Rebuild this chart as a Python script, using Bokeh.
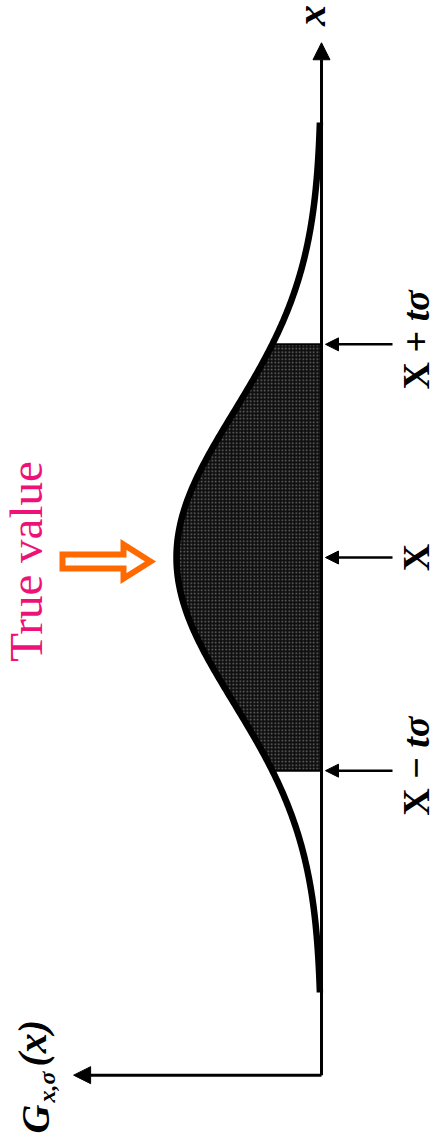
import numpy as np
from bokeh.plotting import figure
from bokeh.models import Range1d, Arrow, NormalHead
from bokeh.core.properties import value
from bokeh.embed import file_html
from bokeh.resources import INLINE

# ---- Gaussian G_{X,sigma}(x) and the shaded interval X +/- t*sigma ----
X_TRUE = 0.0          # true value X
SIGMA = 1.0           # width sigma
T_FACTOR = 1.47       # t
CURVE_SPAN = 3.0      # curve drawn out to X +/- 3 sigma
X_AXIS_LOW = -3.57    # x axis runs between these (in sigma units about X)
X_AXIS_HIGH = 3.55
G_AXIS_END = 0.682    # length of the G axis

marker_names = ["X \u2212 ", "X", "X + "]
marker_factors = [-1.0, 0.0, 1.0]

# ---- page geometry (rotated drawing: x runs upward, G runs to the left) ----
W, H = 439, 1141
BASE_PX = 321.0       # screen column of G = 0
MEAN_PY = 557.0       # screen row of x = X
PX_PER_SIGMA = 145.0
PEAK_G = 1.0 / (SIGMA * np.sqrt(2 * np.pi))
PX_PER_G = 145.0 / PEAK_G
BASELINE_FIX = 0.42   # rotated text sits this many font sizes right of its anchor


def g_at(px):
    """screen column -> G value"""
    return (BASE_PX - px) / PX_PER_G


def x_at(py):
    """screen row -> x value"""
    return X_TRUE + (MEAN_PY - py) / PX_PER_SIGMA * SIGMA


def gauss(x):
    return np.exp(-((x - X_TRUE) ** 2) / (2 * SIGMA ** 2)) / (SIGMA * np.sqrt(2 * np.pi))


p = figure(width=W, height=H, output_backend="svg", toolbar_location=None,
           x_range=Range1d(start=g_at(0), end=g_at(W)),
           y_range=Range1d(start=x_at(H), end=x_at(0)),
           min_border=0)
p.axis.visible = False
p.grid.visible = False
p.outline_line_color = None
p.background_fill_color = "white"
p.border_fill_color = "white"

# shaded area between X - t*sigma and X + t*sigma
xs_fill = np.linspace(X_TRUE - T_FACTOR * SIGMA, X_TRUE + T_FACTOR * SIGMA, 200)
p.harea(y=xs_fill, x1=np.zeros_like(xs_fill), x2=gauss(xs_fill),
        fill_color="#0f0f0f", hatch_pattern="dot", hatch_color="white",
        hatch_alpha=0.4, hatch_scale=3.5, hatch_weight=1.0)
edges = np.array([X_TRUE - T_FACTOR * SIGMA, X_TRUE + T_FACTOR * SIGMA])
p.segment(x0=np.zeros(2), y0=edges, x1=gauss(edges), y1=edges,
          line_color="black", line_width=2)

# the Gaussian curve
xs = np.linspace(X_TRUE - CURVE_SPAN * SIGMA, X_TRUE + CURVE_SPAN * SIGMA, 400)
p.line(gauss(xs), xs, line_color="black", line_width=6.5, line_join="round")

# axes with arrow heads
p.add_layout(Arrow(x_start=0, y_start=X_TRUE + X_AXIS_LOW * SIGMA,
                   x_end=0, y_end=X_TRUE + X_AXIS_HIGH * SIGMA,
                   line_width=3, line_color="black",
                   end=NormalHead(size=17, fill_color="black", line_color="black")))
p.add_layout(Arrow(x_start=0, y_start=X_TRUE + X_AXIS_LOW * SIGMA,
                   x_end=G_AXIS_END, y_end=X_TRUE + X_AXIS_LOW * SIGMA,
                   line_width=3, line_color="black",
                   end=NormalHead(size=17, fill_color="black", line_color="black")))

# marker arrows at X - t*sigma, X, X + t*sigma
for f in marker_factors:
    ym = X_TRUE + f * T_FACTOR * SIGMA
    p.add_layout(Arrow(x_start=g_at(392), y_start=ym, x_end=g_at(325), y_end=ym,
                       line_width=2.5, line_color="black",
                       end=NormalHead(size=13, fill_color="black", line_color="black")))

serif = value("Liberation Serif")


def vtext(px, py, txt, size, style="bold", align="left", color="black"):
    """rotated text whose baseline runs along screen column px"""
    p.text(x=[g_at(px - BASELINE_FIX * size)], y=[x_at(py)], text=[txt],
           angle=np.pi / 2, text_font=serif, text_font_style=style,
           text_font_size=f"{size}px", text_align=align,
           text_baseline="alphabetic", text_color=color)


LABEL_PX = 431
for name, f in zip(marker_names, marker_factors):
    mark_py = MEAN_PY - f * T_FACTOR * PX_PER_SIGMA
    if f == 0:
        vtext(LABEL_PX, mark_py, name, 38, align="center")
    else:
        vtext(LABEL_PX, mark_py - 23, name, 38, align="right")
        vtext(LABEL_PX, mark_py - 23, "t\u03c3", 38, style="bold italic", align="left")

# axis names
vtext(328, 15, "x", 42, style="bold italic", align="center")
vtext(52, 1133, "G", 40, style="bold italic")
vtext(57, 1102, "x,\u03c3", 24, style="bold italic")
vtext(49, 1066, "(x)", 40, style="bold italic")

# "True value" pointer
vtext(45, 561, "True value", 47, style="normal", align="center", color="#ee1178")

tip_px = BASE_PX - 145.0 - 26.0
tip_py = 561.0
shape = [(0, 0), (-27, -17), (-27, -7), (-88, -7), (-88, 7), (-27, 7), (-27, 17)]
p.patch([g_at(tip_px + dx) for dx, dy in shape],
        [x_at(tip_py + dy) for dx, dy in shape],
        fill_color=None, line_color="#ff6a00", line_width=6, line_join="miter")

open("out.html", "w").write(file_html(p, INLINE))
